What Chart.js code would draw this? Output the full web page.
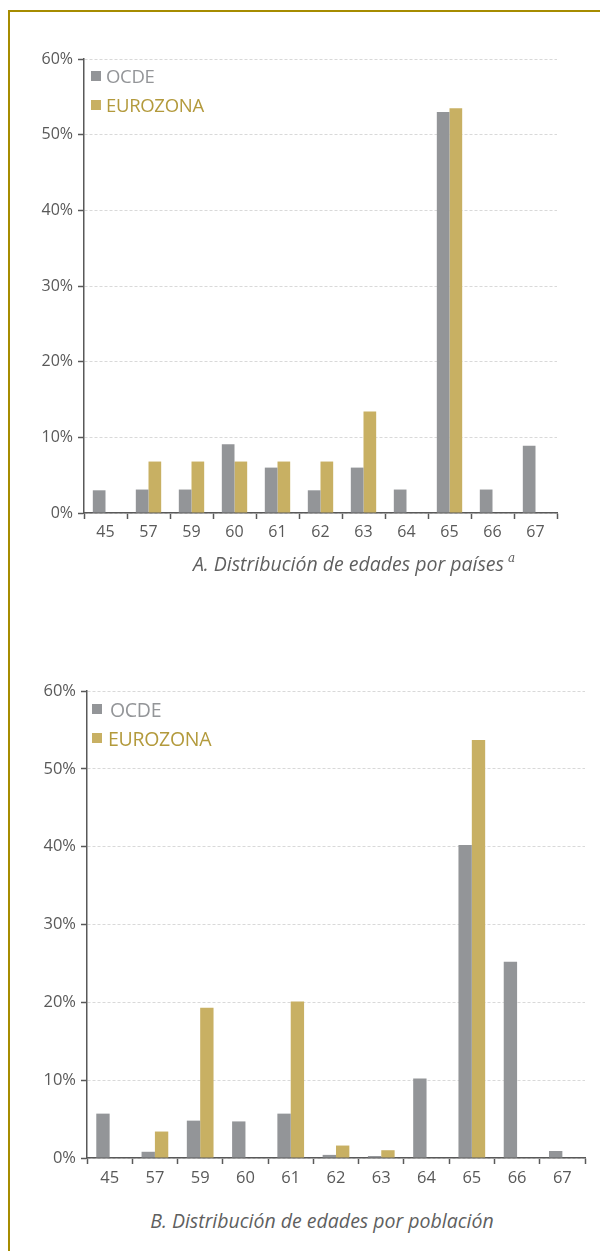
<!DOCTYPE html>
<html>
<head>
<meta charset="utf-8">
<script src="https://cdn.jsdelivr.net/npm/chart.js@4"></script>
<style>
  html, body { margin: 0; padding: 0; background: #fff; }
  body { width: 600px; height: 1251px; position: relative; overflow: hidden; font-family: "Open Sans", sans-serif; }
  .frame { position: absolute; left: 8px; top: 10px; width: 600px; height: 1300px; border-left: 2px solid #a68c00; border-top: 2px solid #a68c00; }
  .box { position: absolute; left: 0; width: 600px; height: 560px; }
  .legend { position: absolute; font-size: 18.5px; line-height: 1; letter-spacing: -0.3px; }
  .legend span.sq { position: absolute; width: 10px; height: 10px; }
  .legend span.tx { position: absolute; white-space: nowrap; }
  .title { position: absolute; width: 600px; left: 0; text-align: center; font-style: italic; font-size: 19.5px; color: #5f5f5f; }
  .title sup { font-size: 12px; font-family: "DejaVu Serif", serif; position: relative; top: -2px; margin-left: 4px; }
</style>
</head>
<body>
<div class="frame"></div>

<div class="box" style="top:0"><canvas id="chartA" width="600" height="560"></canvas></div>
<div class="box" style="top:640px"><canvas id="chartB" width="600" height="560"></canvas></div>

<div class="legend" style="left:0;top:0">
  <span class="sq" style="left:91px;top:71px;background:#939598"></span>
  <span class="tx" style="left:106px;top:67px;color:#939598">OCDE</span>
  <span class="sq" style="left:91px;top:100px;background:#c8b063"></span>
  <span class="tx" style="left:106px;top:96px;color:#b39a3c">EUROZONA</span>
</div>
<div class="legend" style="left:0;top:0;font-size:19.5px">
  <span class="sq" style="left:92px;top:704px;background:#939598"></span>
  <span class="tx" style="left:110px;top:700px;color:#939598">OCDE</span>
  <span class="sq" style="left:92px;top:733px;background:#c8b063"></span>
  <span class="tx" style="left:108px;top:729px;color:#b39a3c">EUROZONA</span>
</div>

<div class="title" style="top:550px;padding-left:54px">A. Distribución de edades por países<sup>a</sup></div>
<div class="title" style="top:1207px;padding-left:22px;">B. Distribución de edades por población</div>

<script>
// edades de jubilación
const ages = ['45', '57', '59', '60', '61', '62', '63', '64', '65', '66', '67'];

// A. por países (% de países)
const ocdeCountries = [3.0, 3.1, 3.1, 9.1, 6.0, 3.0, 6.0, 3.1, 53.0, 3.1, 8.9];
const euroCountries = [0, 6.8, 6.8, 6.8, 6.8, 6.8, 13.4, 0, 53.5, 0, 0];

// B. por población (% de población)
const ocdePopulation = [5.7, 0.8, 4.8, 4.7, 5.7, 0.4, 0.25, 10.2, 40.2, 25.2, 0.9];
const euroPopulation = [0, 3.4, 19.3, 0, 20.1, 1.6, 1.0, 0, 53.7, 0, 0];

const yTicks = [0, 10, 20, 30, 40, 50, 60];

const GREY = '#939598';
const GOLD = '#c8b063';
const AXIS = '#595959';

function makeChart(id, ocde, euro, opt) {
    const ctx = document.getElementById(id).getContext('2d');
    return new Chart(ctx, {
        type: 'bar',
        data: {
            labels: ages,
            datasets: [{
                label: 'OCDE',
                data: ocde,
                backgroundColor: GREY,
                categoryPercentage: 0.59,
                barPercentage: 1.0
            }, {
                label: 'EUROZONA',
                data: euro,
                backgroundColor: GOLD,
                categoryPercentage: 0.59,
                barPercentage: 1.0
            }]
        },
        options: {
            responsive: false,
            animation: false,
            layout: { padding: opt.padding },
            scales: {
                x: {
                    grid: {
                        display: true,
                        drawOnChartArea: false,
                        offset: true,
                        tickLength: 6,
                        tickColor: AXIS,
                        tickWidth: 1.5
                    },
                    border: { color: AXIS, width: 1.5 },
                    ticks: { color: AXIS, font: { family: 'Open Sans', size: opt.font }, padding: 4 },
                    afterFit: function (scale) { scale.height = 30; }
                },
                y: {
                    min: 0,
                    max: 60,
                    afterBuildTicks: function (scale) {
                        scale.ticks = yTicks.map(v => ({ value: v }));
                    },
                    grid: {
                        color: '#d9d9d9',
                        lineWidth: 1,
                        tickLength: 6,
                        tickColor: AXIS,
                        tickWidth: 1.5
                    },
                    border: { color: AXIS, width: 1.5, dash: [3, 2] },
                    ticks: {
                        color: AXIS,
                        font: { family: 'Open Sans', size: opt.font },
                        padding: 5,
                        callback: v => v + '%'
                    },
                    afterFit: function (scale) { scale.width = opt.yWidth; }
                }
            },
            plugins: {
                legend: { display: false },
                title: { display: false },
                tooltip: { enabled: false }
            }
        }
    });
}

makeChart('chartA', ocdeCountries, euroCountries, {
    padding: { top: 59, right: 43, bottom: 17, left: 0 },
    yWidth: 84,
    font: 16
});

makeChart('chartB', ocdePopulation, euroPopulation, {
    padding: { top: 51, right: 15, bottom: 12, left: 0 },
    yWidth: 87,
    font: 16.5
});
</script>
</body>
</html>
